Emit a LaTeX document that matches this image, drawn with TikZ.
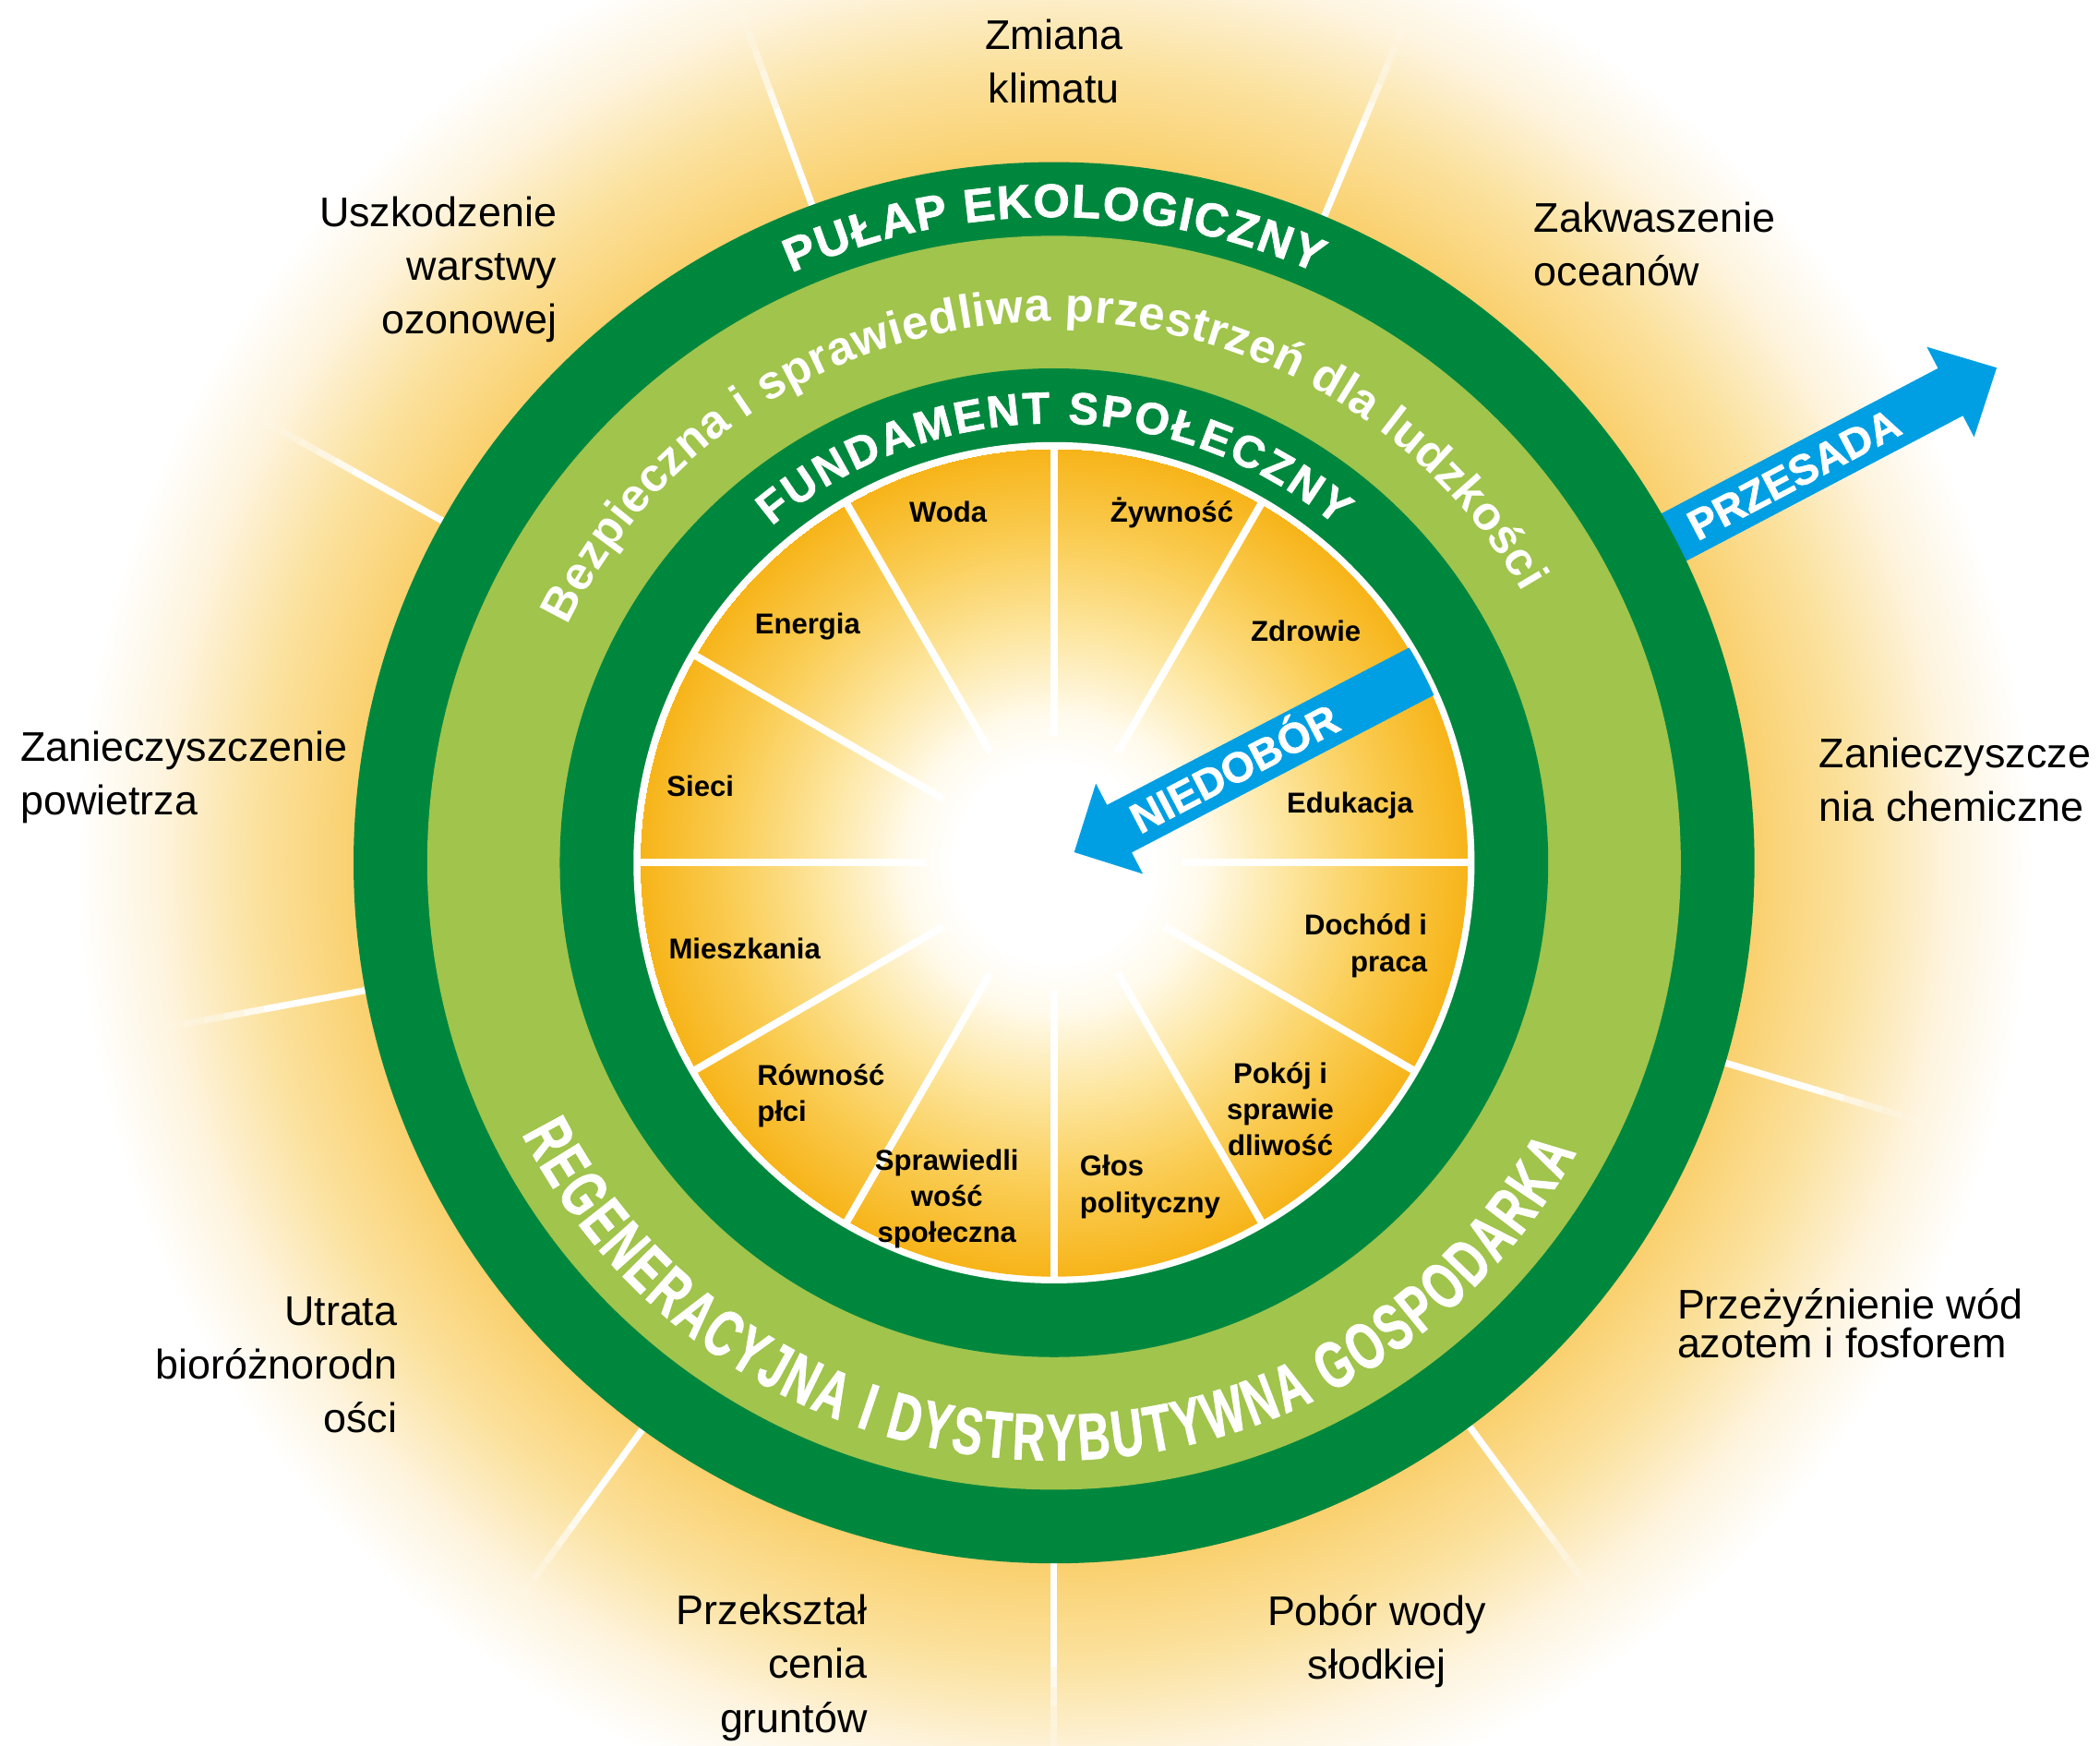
\documentclass[tikz,border=0pt]{standalone}
\usepackage{fontspec}
\setmainfont{Liberation Sans}
\newfontfamily\narrowsans[FakeStretch=0.68, BoldFeatures={FakeBold=1.2}]{Liberation Sans}
\newfontfamily\heavysans[BoldFeatures={FakeBold=1.4}]{Liberation Sans}
\usetikzlibrary{decorations.text}

\definecolor{ringdark}{HTML}{00873E}
\definecolor{ringlight}{HTML}{A0C44C}
\definecolor{arrowblue}{HTML}{009FE3}
\definecolor{glowA}{RGB}{250,208,110}
\definecolor{glowB}{RGB}{251,226,160}
\definecolor{glowC}{RGB}{254,244,222}
\definecolor{coreA}{RGB}{255,250,235}
\definecolor{coreB}{RGB}{253,230,160}
\definecolor{coreC}{RGB}{250,205,85}
\definecolor{coreD}{RGB}{247,180,25}

% radial shadings: 25bp is the rim of the shaded circle
\pgfdeclareradialshading{sunglow}{\pgfpoint{0bp}{0bp}}{color(0bp)=(glowA); color(17.9bp)=(glowA); color(20.5bp)=(glowB); color(22.9bp)=(glowC); color(25bp)=(white)}
\pgfdeclareradialshading{coreglow}{\pgfpoint{0bp}{0bp}}{color(0bp)=(white); color(6bp)=(white); color(9bp)=(coreA); color(14bp)=(coreB); color(19.5bp)=(coreC); color(25bp)=(coreD)}

\newcommand\ringbold{\color{white}\heavysans\bfseries\fontsize{20}{24}\selectfont}
\newcommand\ringinner{\color{white}\heavysans\bfseries\fontsize{19}{22}\selectfont}
\newcommand\ringmixed{\color{white}\bfseries\fontsize{20}{24}\selectfont}
\newcommand\ringnarrow{\color{white}\narrowsans\bfseries\fontsize{28}{32}\selectfont}

\tikzset{
  outerlabel/.style={font=\fontsize{17.6}{22.8}\selectfont, inner sep=0pt},
  innerlabel/.style={font=\bfseries\fontsize{12.2}{15.4}\selectfont, inner sep=0pt},
  arrowlabel/.style={font=\heavysans\bfseries\fontsize{18}{18}\selectfont, text=white, inner sep=0pt, anchor=base},
  ray/.style={white, line width=1mm},
  spoke/.style={white, line width=1.1mm},
  ringtext/.style={decorate, decoration={text along path, text align={fit to path}, text={#1}}}
}

\begin{document}
\begin{tikzpicture}[x=0.2mm, y=0.2mm]
	%%%%% START %%%%%
	\useasboundingbox (-787,-659) rectangle (781,644);
	\fill[white] (-787,-659) rectangle (781,644);
	\shade[shading=sunglow] (0,0) circle (730);
	
	% rays, fading out
	\foreach \a in {67.3,110.2,150.8,190.5,234,270,306.4,343.4}{
		\draw[ray] (\a:515) -- (\a:600);
		\foreach \r/\s/\o in {600/615/0.8,615/630/0.6,630/645/0.42,645/660/0.25,660/675/0.1}
			\draw[ray, opacity=\o] (\a:\r) -- (\a:\s);
	}
	
	% przesada
	\begin{scope}[rotate=27.7]
		\fill[arrowblue] (505,-20) -- (756,-20) -- (756,-38) -- (795,0) -- (756,38) -- (756,20) -- (505,20) -- cycle;
		\node[arrowlabel, rotate=27.7] (przesada) at (624,-11) {PRZESADA};
	\end{scope}
	
	\fill[ringdark] (0,0) circle (523);
	\fill[ringlight] (0,0) circle (468);
	\fill[ringdark] (0,0) circle (369);
	\fill[white] (0,0) circle (314);
	\shade[shading=coreglow] (0,0) circle (309);
	
	\foreach \a in {0,30,...,330}
		\draw[spoke] (\a:95) -- (\a:312);
	
	% niedobor
	\begin{scope}[rotate=27.5]
		\clip (0,0) circle (310);
		\fill[arrowblue] (330,20) -- (55,20) -- (55,38) -- (17,0) -- (55,-38) -- (55,-20) -- (330,-20) -- cycle;
		\node[arrowlabel, rotate=27.5] (niedobor) at (152,-11) {NIEDOBÓR};
	\end{scope}
	
	\path[ringtext={|\ringbold|PUŁAP EKOLOGICZNY}] (114:482) arc[start angle=114, end angle=66, radius=482];
	\path[ringtext={|\ringmixed|Bezpieczna i sprawiedliwa przestrzeń dla ludzkości}] (154:404) arc[start angle=154, end angle=30, radius=404];
	\path[ringtext={|\ringinner|FUNDAMENT SPOŁECZNY}] (130:328) arc[start angle=130, end angle=50, radius=328];
	\path[ringtext={|\ringnarrow|REGENERACYJNA I DYSTRYBUTYWNA GOSPODARKA}] (207:446) arc[start angle=207, end angle=331, radius=446];
	
	\node[innerlabel] (woda) at (-79,262) {Woda};
	\node[innerlabel] (zywnosc) at (88,261) {Żywność};
	\node[innerlabel] (zdrowie) at (188,173) {Zdrowie};
	\node[innerlabel] (edukacja) at (221,43) {Edukacja};
	\node[innerlabel, align=right, anchor=east] (dochod) at (279,-62) {Dochód i\\praca};
	\node[innerlabel, align=center] (pokoj) at (169,-184) {Pokój i\\sprawie\\dliwość};
	\node[innerlabel, align=left, anchor=west] (glos) at (19,-242) {Głos\\polityczny};
	\node[innerlabel, align=center] (sprawiedl) at (-80,-251) {Sprawiedli\\wość\\społeczna};
	\node[innerlabel, align=left, anchor=west] (rownosc) at (-222,-174) {Równość\\płci};
	\node[innerlabel] (mieszk) at (-231,-64) {Mieszkania};
	\node[innerlabel] (sieci) at (-264,57) {Sieci};
	\node[innerlabel] (energia) at (-184,176) {Energia};
	
	\node[outerlabel, align=center] (klimat) at (0,598) {Zmiana\\klimatu};
	\node[outerlabel, align=left, anchor=west] (oceany) at (358,462) {Zakwaszenie\\oceanów};
	\node[outerlabel, align=left, anchor=west] (chemia) at (571,62) {Zanieczyszcze\\nia chemiczne};
	\node[outerlabel, align=left, anchor=west, font=\fontsize{17.6}{16.5}\selectfont] (azot) at (465,-344) {Przeżyźnienie wód\\azotem i fosforem};
	\node[outerlabel, align=center] (slodka) at (241,-581) {Pobór wody\\słodkiej};
	\node[outerlabel, align=right, anchor=east] (grunty) at (-139,-601) {Przekształ\\cenia\\gruntów};
	\node[outerlabel, align=right, anchor=east] (bioroz) at (-490,-375) {Utrata\\bioróżnorodn\\ości};
	\node[outerlabel, align=left, anchor=west] (powietrze) at (-772,64) {Zanieczyszczenie\\powietrza};
	\node[outerlabel, align=right, anchor=east] (ozon) at (-371,443) {Uszkodzenie\\warstwy\\ozonowej};
	%%%%% END %%%%%
\end{tikzpicture}
\end{document}
